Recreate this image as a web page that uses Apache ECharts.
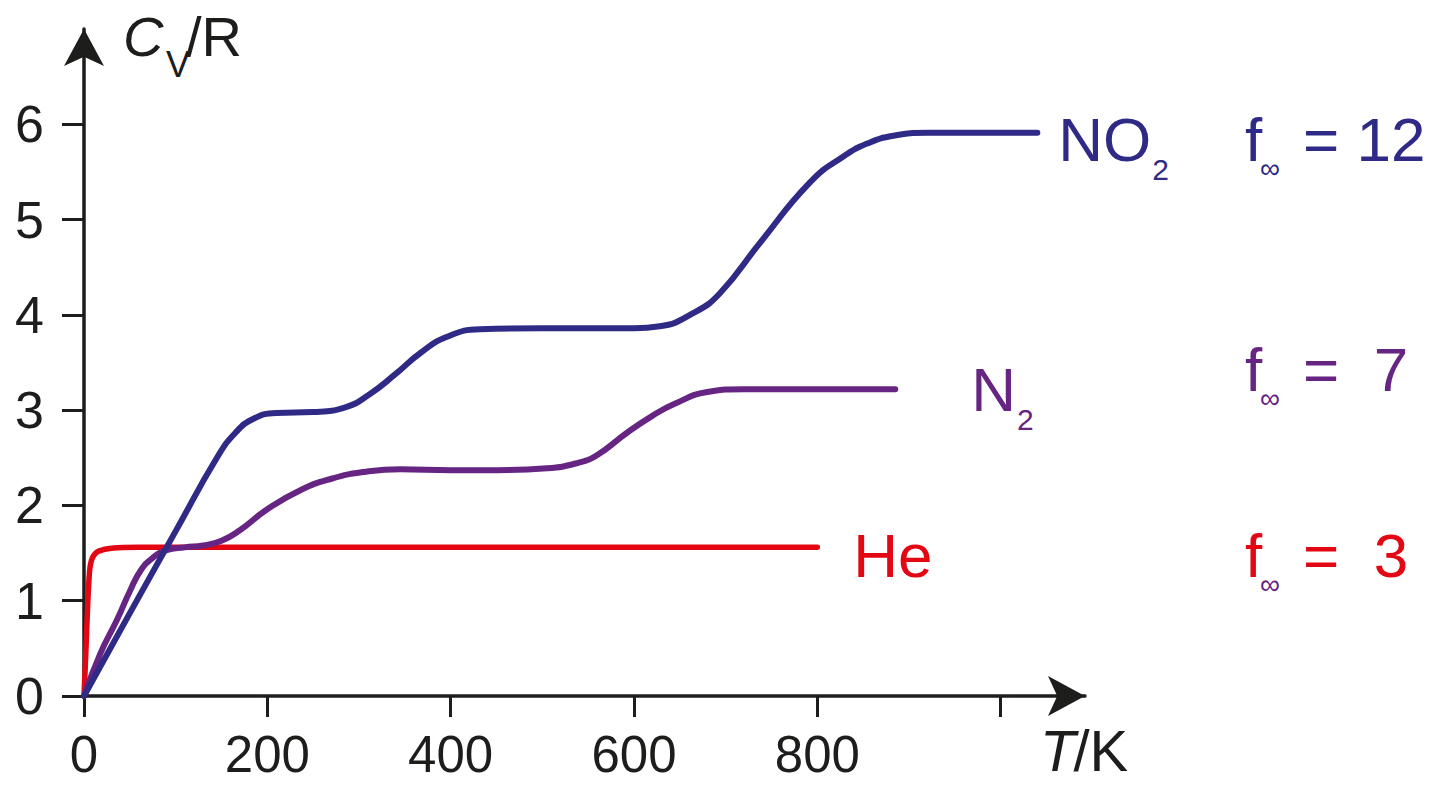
<!DOCTYPE html>
<html>
<head>
<meta charset="utf-8">
<script src="https://cdn.jsdelivr.net/npm/echarts@6/dist/echarts.min.js"></script>
<style>
    html, body { margin: 0; padding: 0; background: #fff; }
    #main { width: 1440px; height: 785px; }
</style>
</head>
<body>
<div id="main"></div>
<script>
// [T/K, Cv/R] pairs
var heData = [[0, 0], [2, 0.45], [4, 0.95], [6, 1.3], [8, 1.42], [11, 1.48], [16, 1.52], [30, 1.55], [60, 1.56], [800, 1.56]];
var n2Data = [[0, 0], [18, 0.45], [36, 0.8], [50, 1.1], [62, 1.32], [75, 1.45], [90, 1.53], [110, 1.56], [130, 1.58],
    [150, 1.63], [170, 1.74], [200, 1.96], [236, 2.16], [270, 2.28], [305, 2.35], [345, 2.38], [400, 2.37], [450, 2.37],
    [505, 2.39], [540, 2.45], [560, 2.53], [592, 2.76], [620, 2.94], [645, 3.07], [680, 3.19], [720, 3.22], [885, 3.22]];
var no2Data = [[0, 0], [50, 0.87], [100, 1.73], [145, 2.5], [165, 2.76], [185, 2.91], [210, 2.97], [250, 2.98], [285, 3.03],
    [312, 3.17], [340, 3.38], [367, 3.6], [396, 3.77], [432, 3.85], [500, 3.86], [600, 3.86], [628, 3.88], [665, 4.02],
    [694, 4.23], [737, 4.75], [792, 5.39], [828, 5.66], [855, 5.8], [883, 5.88], [920, 5.91], [1040, 5.91]];

var xTicks = [0, 200, 400, 600, 800, 1000];
var xTickLabels = [0, 200, 400, 600, 800];
var yTicks = [0, 1, 2, 3, 4, 5, 6];

var names = ['He', 'N', 'NO'];
var subs = ['', '2', '2'];
var fInf = [' 3', ' 7', '12'];

(function () {
    var chartDom = document.getElementById('main');
    var myChart = echarts.init(chartDom, null, { renderer: 'svg' });

    var RED = '#e30613', PURPLE = '#662483', NAVY = '#2e2a85', AXIS = '#1d1d1b';
    var FONT = '"Liberation Sans", Arial, sans-serif';

    function lineSeries(name, data, color, width, smooth) {
        return {
            name: name,
            type: 'line',
            data: data,
            smooth: smooth,
            showSymbol: false,
            lineStyle: { color: color, width: width, cap: 'round' },
            z: 3
        };
    }

    var option = {
        animation: false,
        grid: { left: 84, right: 355, top: 29, bottom: 89 },
        xAxis: {
            type: 'value',
            min: 0,
            max: 1092,
            axisLine: {
                show: true,
                symbol: ['none', 'arrow'],
                symbolSize: [30, 37],
                lineStyle: { color: AXIS, width: 3.5 }
            },
            axisTick: { show: true, customValues: xTicks, length: 21, lineStyle: { color: AXIS, width: 3 } },
            axisLabel: {
                customValues: xTickLabels,
                margin: 40,
                fontSize: 51,
                lineHeight: 36,
                color: AXIS,
                fontFamily: FONT
            },
            splitLine: { show: false }
        },
        yAxis: {
            type: 'value',
            min: 0,
            max: 7,
            axisLine: {
                show: true,
                symbol: ['none', 'arrow'],
                symbolSize: [30, 37],
                lineStyle: { color: AXIS, width: 3.5 }
            },
            axisTick: { show: true, customValues: yTicks, length: 22, lineStyle: { color: AXIS, width: 3 } },
            axisLabel: {
                customValues: yTicks,
                margin: 40,
                fontSize: 52,
                color: AXIS,
                fontFamily: FONT
            },
            splitLine: { show: false }
        },
        series: [
            lineSeries('He', heData, RED, 5.5, 0.3),
            lineSeries('N2', n2Data, PURPLE, 6, 0.5),
            lineSeries('NO2', no2Data, NAVY, 6, 0.5)
        ]
    };

    myChart.setOption(option);

    // text labels placed next to the end of each curve
    var ctx = document.createElement('canvas').getContext('2d');
    function textW(str, size, italic) {
        ctx.font = (italic ? 'italic ' : '') + size + 'px "Liberation Sans"';
        return ctx.measureText(str).width;
    }
    function txt(x, y, str, size, color, italic) {
        return {
            type: 'text',
            x: x,
            y: y,
            silent: true,
            style: {
                text: str,
                fill: color,
                font: (italic ? 'italic ' : '') + size + 'px "Liberation Sans", Arial, sans-serif',
                lineHeight: Math.round(size * 0.8),
                verticalAlign: 'middle',
                align: 'left'
            }
        };
    }

    function buildGraphics() {
        var els = [];
        var data = [heData, n2Data, no2Data];
        var colors = [RED, PURPLE, NAVY];
        var dx = [36, 76, 21];
        var dy = [8, 0, 7];
        var fDy = [8, -20, 7];
        var subColor = [PURPLE, PURPLE, NAVY];
        for (var i = 0; i < 3; i++) {
            var last = data[i][data[i].length - 1];
            var p = myChart.convertToPixel({ seriesIndex: i }, last);
            var lx = p[0] + dx[i], ly = p[1] + dy[i];
            els.push(txt(lx, ly, names[i], 62, colors[i]));
            if (subs[i]) {
                els.push(txt(lx + textW(names[i], 62) + 1, ly + 30, subs[i], 30, colors[i]));
            }
            var fx = 1245, fy = p[1] + fDy[i];
            els.push(txt(fx, fy, 'f', 62, colors[i]));
            els.push(txt(fx + 15, fy + 29, '\u221e', 28, subColor[i]));
            els.push(txt(fx + 58, fy, '= ' + fInf[i], 62, colors[i]));
        }
        // axis titles
        els.push(txt(123, 36, 'C', 56, AXIS, true));
        els.push(txt(166, 64, 'V', 36, AXIS));
        els.push(txt(186, 36, '/R', 56, AXIS));
        els.push(txt(1040, 750, 'T', 58, AXIS, true));
        els.push(txt(1040 + textW('T', 58, true) - 2, 750, '/K', 58, AXIS));
        myChart.setOption({ graphic: { elements: els } });
    }
    buildGraphics();

    window.addEventListener('resize', function () {
        myChart.resize();
        buildGraphics();
    });
})();
</script>
</body>
</html>
